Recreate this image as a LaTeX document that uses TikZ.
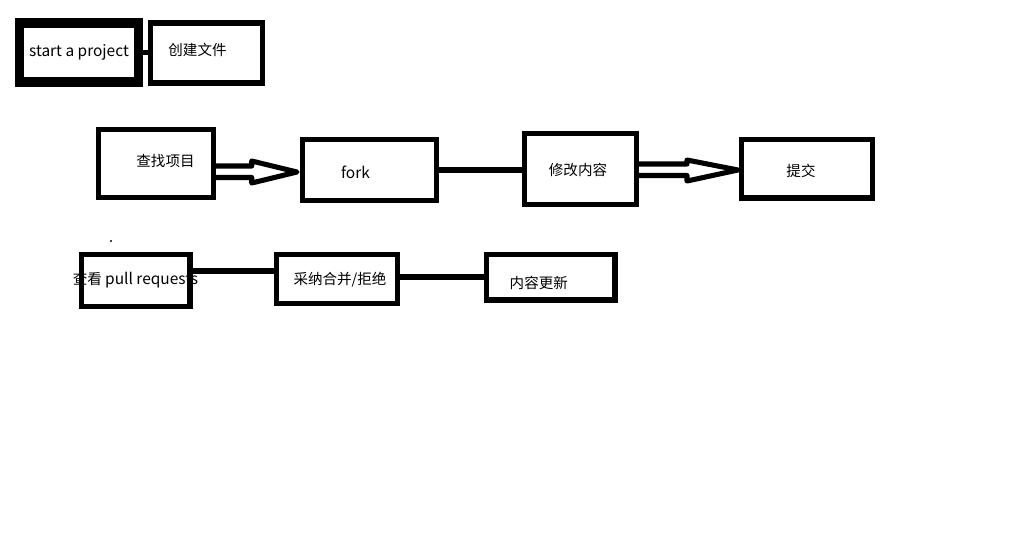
\documentclass[tikz,border=0pt]{standalone}
\usepackage{fontspec}
\newfontfamily\cjk{Noto Sans CJK SC}
\usetikzlibrary{calc}

\newcommand{\lat}{\fontsize{11.6}{13}\selectfont}

\tikzset{
  box/.style={draw, line width=4.1pt, inner sep=0pt, outer sep=0pt},
  txt/.style={font=\cjk\fontsize{10.9}{13}\selectfont, inner sep=0pt},
  link/.style={line width=4.3pt},
  hollow/.style={line width=3.8pt, line join=round},
}

\begin{document}
\begin{tikzpicture}[x=0.75pt,y=-0.75pt]
  \useasboundingbox (0,0) rectangle (1013,540);

  % Captions first, so that the boxes lie over them
  \node[txt] (startt) at (79,52) {\lat start a project};
  \node[txt] (createt) at (197.5,50) {创建文件};
  \node[txt] (findt) at (165.5,160.7) {查找项目};
  \node[txt] (forkt) at (355.5,172) {\lat fork};
  \node[txt] (modt) at (578,170) {修改内容};
  \node[txt] (submitt) at (801,170.7) {提交};
  \node[txt] (prt) at (135.5,280) {查看 {\lat pull requests}};
  \node[txt] (acct) at (340,280) {采纳合并/拒绝};
  \node[txt] (updt) at (538.8,283) {内容更新};

  % Boxes
  \node[box, line width=7pt, minimum width=89.25pt, minimum height=44.25pt] (start) at (79,52.5) {};
  \node[box, minimum width=84pt, minimum height=45pt] (create) at (206.5,53) {};
  \node[box, minimum width=86.6pt, minimum height=51pt] (find) at (156,163.5) {};
  \node[box, minimum width=100.5pt, minimum height=45.75pt] (fork) at (369.5,170) {};
  \node[box, minimum width=84pt, minimum height=53.25pt] (mod) at (580.5,169) {};
  \node[box, minimum width=98.25pt, minimum height=43.9pt] (submit) at (807,168.75) {};
  \node[box, minimum width=81.4pt, minimum height=39pt] (pr) at (135.75,280.5) {};
  \node[box, minimum width=90.75pt, minimum height=36.75pt] (acc) at (337,279) {};
  \node[box, minimum width=96.4pt, minimum height=34.1pt] (upd) at (550.75,277.25) {};

  % Plain links
  \draw[link] (start.east) -- (start.east -| create.west);
  \draw[link] (fork.east) -- (fork.east -| mod.west);
  \coordinate (prout) at ($(pr.east)+(0,-9.5)$);
  \draw[link] (prout) -- (prout -| acc.west);
  \coordinate (accout) at ($(acc.east)+(0,-2.3)$);
  \draw[link] (accout) -- ($(accout -| upd.west)+(2,0)$);

  % Hollow arrows
  \draw[hollow] ($(find.east)+(0,2.5)$) -- ++(38,0) -- ++(0,-5)
    -- ($(fork.west)+(-5.5,2)$) -- ($(find.east)+(38,19.5)$) -- ++(0,-5.5)
    -- ($(find.east)+(0,14)$);
  \draw[hollow] ($(mod.east)+(0,-5)$) -- ++(50.5,0) -- ++(0,-4)
    -- ($(submit.west)+(-3.5,1.25)$) -- ($(mod.east)+(50.5,12)$) -- ++(0,-5.5)
    -- ($(mod.east)+(0,6.5)$);

  % stray dot
  \fill (111,241) circle (0.8pt);

\end{tikzpicture}
\end{document}
